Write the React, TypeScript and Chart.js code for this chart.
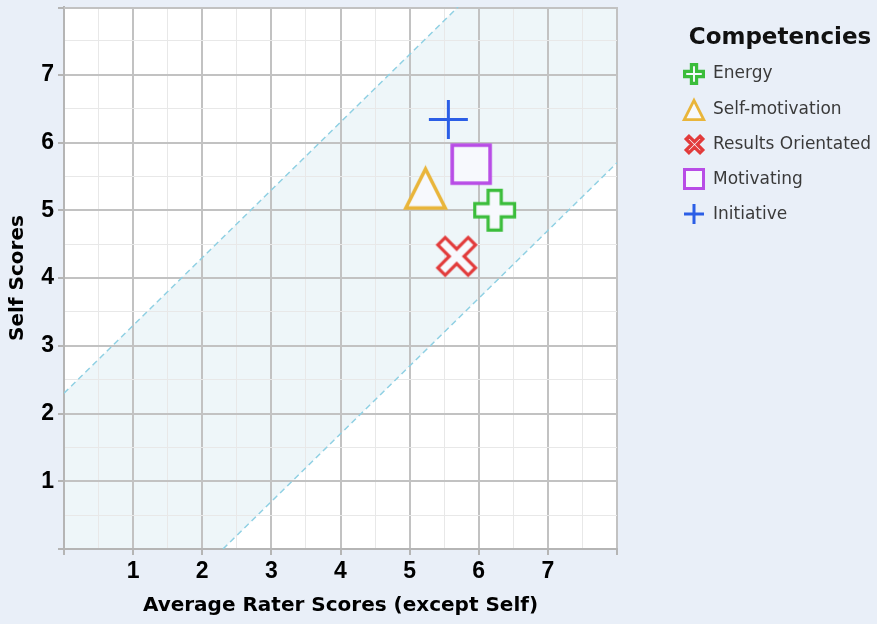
import React, { useEffect, useRef } from 'react';
import { Chart, registerables } from 'chart.js';

Chart.register(...registerables);

// ---------- data ----------
const competencies = ['Energy', 'Self-motivation', 'Results Orientated', 'Motivating', 'Initiative'];
const raterScores = [6.23, 5.23, 5.68, 5.89, 5.56];
const selfScores = [5.0, 5.34, 4.32, 5.68, 6.34];
const markerKinds = ['plusFat', 'triangle', 'xFat', 'square', 'cross'];
const markerColors = ['#3bbd3b', '#e9b53a', '#e23b3b', '#b84ce6', '#2b5ee6'];
const tickLabels = [1, 2, 3, 4, 5, 6, 7];
const axisMin = 0;
const axisMax = 8;
const bandOffset = 2.3;
const legendTitle = 'Competencies';
const xTitle = 'Average Rater Scores (except Self)';
const yTitle = 'Self Scores';

// ---------- styles ----------
const PAGE_BG = '#e9eff8';
const MARKER_FILL = '#f7f9fd';
const BAND_FILL = '#eef6f9';
const BAND_LINE = '#8fd0e3';
const MAJOR_GRID = '#c2c2c2';
const MINOR_GRID = '#e8e8e8';
const AXIS_LINE = '#b5b5b5';
const plotSizes: Record<string, [number, number]> = {
  plusFat: [43, 3.2],
  triangle: [45, 3.5],
  xFat: [44, 3.2],
  square: [41.5, 3.6],
  cross: [39, 3],
};
const legendSizes: Record<string, [number, number]> = {
  plusFat: [22, 3.2],
  triangle: [24, 2.8],
  xFat: [23, 3.2],
  square: [22, 3],
  cross: [20, 3],
};

function makeMarker(kind: string, color: string, size: number, lw: number): HTMLCanvasElement {
  const pad = 3;
  const dim = Math.ceil(size + pad * 2);
  const cv = document.createElement('canvas');
  cv.width = dim;
  cv.height = dim;
  const ctx = cv.getContext('2d')!;
  ctx.translate(dim / 2, dim / 2);
  ctx.lineWidth = lw;
  ctx.strokeStyle = color;
  ctx.fillStyle = MARKER_FILL;
  ctx.lineJoin = 'miter';
  const plusPath = (h: number, a: number) => {
    const p = [
      [-a, -h], [a, -h], [a, -a], [h, -a], [h, a], [a, a],
      [a, h], [-a, h], [-a, a], [-h, a], [-h, -a], [-a, -a],
    ];
    ctx.beginPath();
    p.forEach(([x, y], i) => (i ? ctx.lineTo(x, y) : ctx.moveTo(x, y)));
    ctx.closePath();
  };
  if (kind === 'plusFat') {
    const h = size / 2 - lw / 2;
    const a = size * 0.19 - lw / 2;
    plusPath(h, a);
    ctx.fill();
    ctx.stroke();
  } else if (kind === 'xFat') {
    const aOut = size * 0.155;
    const eOut = (size / 2) * Math.SQRT2 - aOut - lw * 0.4;
    ctx.rotate(Math.PI / 4);
    plusPath(eOut - lw / 2, aOut - lw / 2);
    ctx.fill();
    ctx.stroke();
  } else if (kind === 'triangle') {
    const hw = size / 2 - lw * 0.8;
    const top = -size / 2 + lw * 1.2;
    const bot = size / 2 - lw / 2;
    ctx.beginPath();
    ctx.moveTo(0, top);
    ctx.lineTo(hw, bot);
    ctx.lineTo(-hw, bot);
    ctx.closePath();
    ctx.fill();
    ctx.stroke();
  } else if (kind === 'square') {
    const h = size / 2 - lw / 2;
    ctx.beginPath();
    ctx.rect(-h, -h, 2 * h, 2 * h);
    ctx.fill();
    ctx.stroke();
  } else {
    const h = size / 2;
    ctx.lineCap = 'butt';
    ctx.beginPath();
    ctx.moveTo(-h, 0);
    ctx.lineTo(h, 0);
    ctx.moveTo(0, -h);
    ctx.lineTo(0, h);
    ctx.stroke();
  }
  return cv;
}

const isMajor = (v: number) => Math.abs(v - Math.round(v)) < 1e-9;

export default function App() {
  const ref = useRef<HTMLCanvasElement>(null);

  useEffect(() => {
    const canvas = ref.current!;
    const plotMarkers = markerKinds.map((k, i) =>
      makeMarker(k, markerColors[i], plotSizes[k][0], plotSizes[k][1])
    );
    const legendMarkers = markerKinds.map((k, i) =>
      makeMarker(k, markerColors[i], legendSizes[k][0], legendSizes[k][1])
    );

    const bandPlugin = {
      id: 'band',
      beforeDraw(chart: any) {
        const { ctx, chartArea, scales } = chart;
        const { left, top, right, bottom } = chartArea;
        const x = scales.x;
        const y = scales.y;
        ctx.save();
        ctx.fillStyle = '#ffffff';
        ctx.fillRect(left, top, right - left, bottom - top);
        const poly = [
          [axisMin, axisMin],
          [axisMin, axisMin + bandOffset],
          [axisMax - bandOffset, axisMax],
          [axisMax, axisMax],
          [axisMax, axisMax - bandOffset],
          [axisMin + bandOffset, axisMin],
        ];
        ctx.beginPath();
        poly.forEach(([vx, vy], i) => {
          const px = x.getPixelForValue(vx);
          const py = y.getPixelForValue(vy);
          if (i) ctx.lineTo(px, py);
          else ctx.moveTo(px, py);
        });
        ctx.closePath();
        ctx.fillStyle = BAND_FILL;
        ctx.fill();
        ctx.restore();
      },
      beforeDatasetsDraw(chart: any) {
        // top edge of the plot box (grid line at y = axisMax) plus its outside tick
        const { ctx, scales } = chart;
        const py = Math.round(scales.y.getPixelForValue(axisMax)) + 1;
        const x0 = scales.x.getPixelForValue(axisMin);
        const x1 = scales.x.getPixelForValue(axisMax);
        ctx.save();
        ctx.lineWidth = 2;
        ctx.strokeStyle = MAJOR_GRID;
        ctx.beginPath();
        ctx.moveTo(x0, py);
        ctx.lineTo(x1 + 1, py);
        ctx.stroke();
        ctx.strokeStyle = AXIS_LINE;
        ctx.beginPath();
        ctx.moveTo(x0 - 6, py);
        ctx.lineTo(x0, py);
        ctx.stroke();
        ctx.restore();
      },
    };

    const legendPlugin = {
      id: 'customLegend',
      afterDraw(chart: any) {
        const { ctx, chartArea } = chart;
        const lx = chartArea.right + 67;
        ctx.save();
        ctx.fillStyle = '#111111';
        ctx.font = 'bold 23px "DejaVu Sans"';
        ctx.textAlign = 'center';
        ctx.textBaseline = 'middle';
        ctx.fillText(legendTitle, 780, 38);
        ctx.font = '17px "DejaVu Sans"';
        ctx.textAlign = 'left';
        ctx.fillStyle = '#3a3a3a';
        competencies.forEach((name, i) => {
          const cy = 74 + i * 35.1;
          const m = legendMarkers[i];
          ctx.drawImage(m, Math.round(lx + 10 - m.width / 2), Math.round(cy - m.height / 2));
          ctx.fillText(name, lx + 29, cy);
        });
        ctx.restore();
      },
    };

    const gridOpts = {
      color: (c: any) => (isMajor(c.tick.value) ? MAJOR_GRID : MINOR_GRID),
      lineWidth: (c: any) => (isMajor(c.tick.value) ? 2 : 1),
      tickColor: (c: any) => (isMajor(c.tick.value) ? AXIS_LINE : 'rgba(0,0,0,0)'),
      tickLength: 6,
      drawTicks: true,
    };
    const tickFont = { family: '"Liberation Sans"', size: 23, weight: 'bold' as const };
    const titleFont = { family: '"DejaVu Sans"', size: 20, weight: 'bold' as const };

    const lineDs = (pts: { x: number; y: number }[]) => ({
      label: '',
      data: pts,
      showLine: true,
      borderColor: BAND_LINE,
      borderWidth: 1.5,
      borderDash: [6, 4],
      pointRadius: 0,
      fill: false,
    });

    const chart = new Chart(canvas, {
      type: 'scatter',
      data: {
        datasets: [
          lineDs([
            { x: axisMin, y: axisMin + bandOffset },
            { x: axisMax - bandOffset, y: axisMax },
          ]),
          lineDs([
            { x: axisMin + bandOffset, y: axisMin },
            { x: axisMax, y: axisMax - bandOffset },
          ]),
          ...competencies.map((name, i) => ({
            label: name,
            data: [{ x: raterScores[i], y: selfScores[i] }],
            pointStyle: plotMarkers[i] as any,
            pointRadius: 21,
            showLine: false,
          })),
        ],
      },
      options: {
        responsive: false,
        animation: false,
        events: [],
        layout: { autoPadding: false, padding: { top: 7, right: 260, left: 0, bottom: 0 } },
        plugins: {
          legend: { display: false },
          tooltip: { enabled: false },
        },
        scales: {
          x: {
            type: 'linear',
            min: axisMin,
            max: axisMax,
            afterFit: (s: any) => {
              s.height = 75;
              s.paddingLeft = 0;
              s.paddingRight = 0;
            },
            ticks: {
              stepSize: 0.5,
              autoSkip: false,
              maxRotation: 0,
              padding: 3,
              color: '#000',
              font: tickFont,
              callback: (v: any) => (tickLabels.includes(Number(v)) ? String(v) : ''),
            },
            grid: gridOpts as any,
            border: { color: AXIS_LINE, width: 2 },
            title: {
              display: true,
              text: xTitle,
              color: '#000',
              font: titleFont,
              padding: { top: 0, bottom: 6 },
            },
          },
          y: {
            type: 'linear',
            min: axisMin,
            max: axisMax,
            afterFit: (s: any) => {
              s.width = 64;
              s.paddingTop = 0;
              s.paddingBottom = 0;
            },
            ticks: {
              stepSize: 0.5,
              autoSkip: false,
              padding: 4,
              color: '#000',
              font: tickFont,
              callback: (v: any) =>
                Number(v) === axisMax ? null : tickLabels.includes(Number(v)) ? String(v) : '',
            },
            grid: gridOpts as any,
            border: { color: AXIS_LINE, width: 2 },
            title: {
              display: true,
              text: yTitle,
              color: '#000',
              font: titleFont,
              padding: { top: 6, bottom: 0 },
            },
          },
        },
      },
      plugins: [bandPlugin, legendPlugin],
    });
    return () => chart.destroy();
  }, []);

  return (
    <div
      style={{
        position: 'fixed',
        left: 0,
        top: 0,
        width: 877,
        height: 624,
        background: PAGE_BG,
      }}
    >
      <canvas ref={ref} width={877} height={624} style={{ display: 'block' }} />
    </div>
  );
}
